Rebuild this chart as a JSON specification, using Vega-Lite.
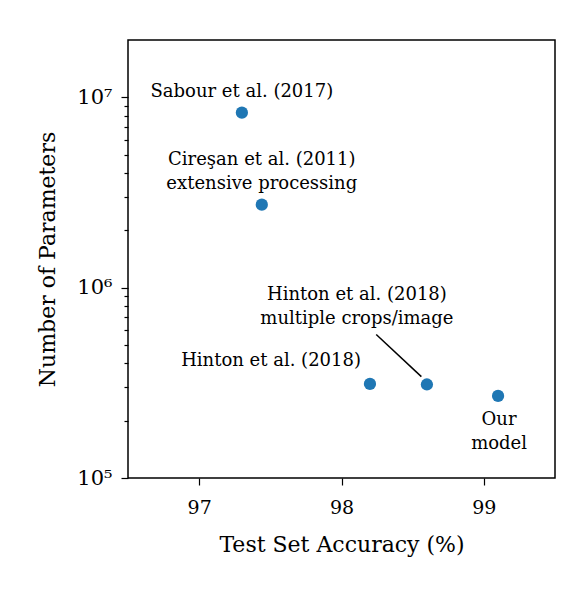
{
  "$schema": "https://vega.github.io/schema/vega-lite/v6.json",
  "autosize": {"type": "none"},
  "width": 427,
  "height": 438,
  "padding": {"left": 128, "top": 40, "right": 27, "bottom": 112},
  "background": "white",
  "config": {
    "view": {"stroke": "black", "strokeWidth": 1.5},
    "font": "DejaVu Serif",
    "axis": {
      "domain": false,
      "grid": false,
      "tickColor": "black",
      "tickWidth": 1.2,
      "labelColor": "black",
      "titleColor": "black",
      "labelFont": "DejaVu Serif",
      "titleFont": "DejaVu Serif",
      "labelFontSize": 19,
      "titleFontSize": 22,
      "titleFontWeight": "normal"
    }
  },
  "datasets": {
    "models": [
      {"name": "sabour", "acc": 97.30, "params": 8300000, "label": "Sabour et al. (2017)"},
      {"name": "ciresan", "acc": 97.44, "params": 2730000, "label": "Cireşan et al. (2011)\nextensive processing"},
      {"name": "hinton", "acc": 98.20, "params": 312000, "label": "Hinton et al. (2018)"},
      {"name": "hinton_mc", "acc": 98.60, "params": 310000, "label": "Hinton et al. (2018)\nmultiple crops/image"},
      {"name": "ours", "acc": 99.10, "params": 270000, "label": "Our\nmodel"}
    ],
    "connector": [
      {"acc": 98.244, "params": 567000, "acc2": 98.561, "params2": 341000}
    ]
  },
  "layer": [
    {
      "data": {"name": "connector"},
      "mark": {"type": "rule", "color": "black", "strokeWidth": 1.5},
      "encoding": {
        "x": {"field": "acc", "type": "quantitative"},
        "y": {"field": "params", "type": "quantitative"},
        "x2": {"field": "acc2"},
        "y2": {"field": "params2"}
      }
    },
    {
      "data": {"name": "models"},
      "mark": {"type": "point", "filled": true, "opacity": 1, "size": 150, "color": "#1f77b4"},
      "encoding": {
        "x": {
          "field": "acc", "type": "quantitative",
          "scale": {"domain": [96.5, 99.5], "nice": false, "zero": false},
          "axis": {"values": [97, 98, 99], "format": "d", "tickSize": 7, "labelPadding": 13, "title": "Test Set Accuracy (%)", "titlePadding": 17}
        },
        "y": {
          "field": "params", "type": "quantitative",
          "scale": {"type": "log", "domain": [100000, 20000000], "nice": false},
          "axis": {
            "values": [100000, 200000, 300000, 400000, 500000, 600000, 700000, 800000, 900000, 1000000, 2000000, 3000000, 4000000, 5000000, 6000000, 7000000, 8000000, 9000000, 10000000],
            "labelExpr": "datum.value == 100000 ? '10⁵' : datum.value == 1000000 ? '10⁶' : datum.value == 10000000 ? '10⁷' : ''",
            "labelFontSize": 21,
            "tickSize": {"condition": {"test": "datum.value == 100000 || datum.value == 1000000 || datum.value == 10000000", "value": 7}, "value": 4},
            "labelPadding": 9,
            "title": "Number of Parameters",
            "titlePadding": 17
          }
        }
      }
    },
    {
      "data": {"name": "models"},
      "transform": [{"filter": "datum.name == 'sabour'"}],
      "mark": {"type": "text", "font": "DejaVu Serif", "fontSize": 18, "align": "center", "baseline": "middle", "dy": -21, "color": "black"},
      "encoding": {"x": {"field": "acc", "type": "quantitative"}, "y": {"field": "params", "type": "quantitative"}, "text": {"field": "label"}}
    },
    {
      "data": {"name": "models"},
      "transform": [{"filter": "datum.name == 'ciresan'"}],
      "mark": {"type": "text", "font": "DejaVu Serif", "fontSize": 18, "align": "center", "baseline": "middle", "dy": -45, "lineBreak": "\n", "lineHeight": 24, "color": "black"},
      "encoding": {"x": {"field": "acc", "type": "quantitative"}, "y": {"field": "params", "type": "quantitative"}, "text": {"field": "label"}}
    },
    {
      "data": {"name": "models"},
      "transform": [{"filter": "datum.name == 'hinton'"}],
      "mark": {"type": "text", "font": "DejaVu Serif", "fontSize": 18, "align": "right", "baseline": "middle", "dx": -9, "dy": -23, "color": "black"},
      "encoding": {"x": {"field": "acc", "type": "quantitative"}, "y": {"field": "params", "type": "quantitative"}, "text": {"field": "label"}}
    },
    {
      "data": {"name": "models"},
      "transform": [{"filter": "datum.name == 'hinton_mc'"}],
      "mark": {"type": "text", "font": "DejaVu Serif", "fontSize": 18, "align": "center", "baseline": "middle", "dx": -70, "dy": -89, "lineBreak": "\n", "lineHeight": 24, "color": "black"},
      "encoding": {"x": {"field": "acc", "type": "quantitative"}, "y": {"field": "params", "type": "quantitative"}, "text": {"field": "label"}}
    },
    {
      "data": {"name": "models"},
      "transform": [{"filter": "datum.name == 'ours'"}],
      "mark": {"type": "text", "font": "DejaVu Serif", "fontSize": 18, "align": "center", "baseline": "middle", "dx": 1, "dy": 24, "lineBreak": "\n", "lineHeight": 24, "color": "black"},
      "encoding": {"x": {"field": "acc", "type": "quantitative"}, "y": {"field": "params", "type": "quantitative"}, "text": {"field": "label"}}
    }
  ]
}
